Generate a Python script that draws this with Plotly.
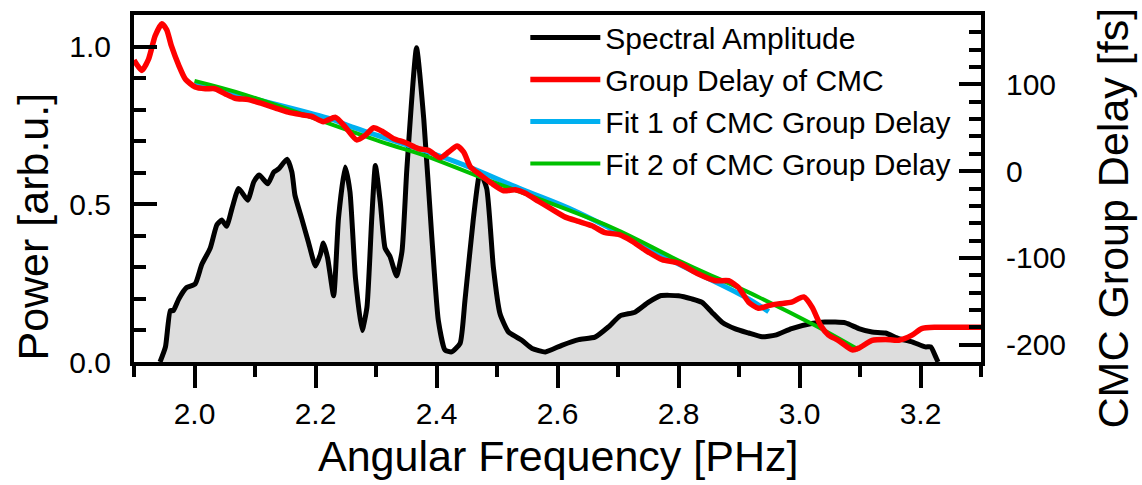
import plotly.graph_objects as go

# ---------------- data ----------------
spec_freq = [1.943, 1.952, 1.960, 1.965, 1.974, 1.987, 2.001, 2.012, 2.026, 2.037,
             2.045, 2.053, 2.062, 2.073, 2.088, 2.098, 2.107, 2.121, 2.131, 2.139,
             2.153, 2.161, 2.166, 2.177, 2.188, 2.200, 2.208, 2.213, 2.220, 2.230,
             2.238, 2.249, 2.257, 2.266, 2.277, 2.285, 2.293, 2.299, 2.307, 2.315,
             2.323, 2.334, 2.343, 2.351, 2.367, 2.379, 2.392, 2.403, 2.414, 2.425,
             2.439, 2.447, 2.461, 2.472, 2.483, 2.494, 2.505, 2.519, 2.541, 2.558,
             2.580, 2.607, 2.635, 2.662, 2.684, 2.704, 2.728, 2.750, 2.770, 2.800,
             2.822, 2.839, 2.855, 2.872, 2.894, 2.916, 2.938, 2.960, 2.987, 3.020,
             3.042, 3.076, 3.098, 3.120, 3.142, 3.164, 3.186, 3.208, 3.217, 3.225, 3.229]
spec_power = [0.0, 0.048, 0.163, 0.163, 0.20, 0.236, 0.247, 0.309, 0.361, 0.435,
              0.45, 0.43, 0.487, 0.55, 0.513, 0.571, 0.593, 0.565, 0.602, 0.612,
              0.643, 0.602, 0.529, 0.456, 0.382, 0.304, 0.341, 0.377, 0.33, 0.21,
              0.456, 0.618, 0.539, 0.267, 0.10, 0.173, 0.456, 0.623, 0.508, 0.361,
              0.335, 0.273, 0.351, 0.612, 0.996, 0.769, 0.403, 0.132, 0.038, 0.032,
              0.059, 0.194, 0.456, 0.602, 0.55, 0.30, 0.153, 0.095, 0.069, 0.043,
              0.032, 0.053, 0.071, 0.079, 0.111, 0.147, 0.158, 0.189, 0.21, 0.21,
              0.20, 0.189, 0.158, 0.126, 0.105, 0.092, 0.080, 0.085, 0.106, 0.122,
              0.127, 0.124, 0.106, 0.095, 0.092, 0.074, 0.064, 0.048, 0.048, 0.017, 0.0]

gd_freq = [1.900, 1.913, 1.924, 1.935, 1.946, 1.954, 1.962, 1.974, 1.985, 2.001,
           2.018, 2.034, 2.051, 2.067, 2.089, 2.111, 2.133, 2.155, 2.177, 2.194,
           2.213, 2.233, 2.249, 2.268, 2.282, 2.296, 2.310, 2.329, 2.348, 2.370,
           2.387, 2.406, 2.420, 2.434, 2.445, 2.456, 2.472, 2.491, 2.511, 2.530,
           2.547, 2.569, 2.591, 2.613, 2.635, 2.657, 2.679, 2.701, 2.723, 2.745,
           2.773, 2.800, 2.833, 2.861, 2.883, 2.899, 2.916, 2.932, 2.949, 2.965,
           2.987, 3.007, 3.021, 3.035, 3.048, 3.064, 3.087, 3.098, 3.120, 3.142,
           3.164, 3.186, 3.202, 3.225, 3.300]
gd_fs = [128, 116, 129, 156, 170, 163, 144, 122, 106, 97,
         95, 95, 89, 84, 82.5, 78, 73, 68, 65, 63,
         57, 62, 51, 36, 41, 50, 46, 37.5, 33, 26,
         24, 15.4, 22, 29, 22, 5, -4, -14, -22.6, -21.5,
         -25.4, -35, -44, -53, -58, -63, -71, -73, -80.6, -91,
         -102, -106, -118.6, -126.3, -126.3, -134, -151, -158, -155, -153,
         -151, -145, -157, -178, -189, -195, -206, -204, -195, -194,
         -195, -189, -181.5, -180, -180]

fit1_freq = [2.000, 2.084, 2.221, 2.260, 2.431, 2.541, 2.629, 2.800, 2.910, 2.949]
fit1_fs = [101, 86, 61, 51, 11, -21, -46, -107, -145, -162]

fit2_freq = [2.000, 2.084, 2.321, 2.376, 2.469, 2.690, 2.800, 2.932, 3.026, 3.098]
fit2_fs = [104, 88, 31, 19, -6, -65, -103, -145, -178, -206]

x_tickvals = [2.0, 2.2, 2.4, 2.6, 2.8, 3.0, 3.2]
x_ticktext = ["2.0", "2.2", "2.4", "2.6", "2.8", "3.0", "3.2"]
x_minorvals = [1.9, 2.1, 2.3, 2.5, 2.7, 2.9, 3.1, 3.3]
x_topvals = [2.0, 2.1, 2.2, 2.3, 2.4, 2.5, 2.6, 2.7, 2.8, 2.9, 3.0, 3.1, 3.2]
y_tickvals = [0.0, 0.5, 1.0]
y_ticktext = ["0.0", "0.5", "1.0"]
y_minorvals = [0.1, 0.2, 0.3, 0.4, 0.6, 0.7, 0.8, 0.9, 1.1]
y2_tickvals = [-200, -100, 0, 100]
y2_ticktext = ["-200", "-100", "0", "100"]
y2_minorvals = [-220, -180, -160, -140, -120, -80, -60, -40, -20, 20, 40, 60, 80, 120, 140, 160, 180]

names = ["Spectral Amplitude", "Group Delay of CMC", "Fit 1 of CMC Group Delay", "Fit 2 of CMC Group Delay"]

FONT = "Liberation Sans, Arial, sans-serif"
X_RANGE = [1.9, 3.3]

fig = go.Figure()
# grey area under the spectrum (no legend entry)
fig.add_trace(go.Scatter(x=spec_freq, y=spec_power, mode="lines", showlegend=False,
                         line=dict(color="rgba(0,0,0,0)", width=0, shape="spline", smoothing=0.5),
                         fill="tozeroy", fillcolor="#DDDDDD", hoverinfo="skip", yaxis="y"))
fig.add_trace(go.Scatter(x=spec_freq, y=spec_power, name=names[0], mode="lines",
                         line=dict(color="black", width=5, shape="spline", smoothing=0.5),
                         legendrank=1, yaxis="y"))
fig.add_trace(go.Scatter(x=fit1_freq, y=fit1_fs, name=names[2], mode="lines",
                         line=dict(color="#00B0F0", width=5, shape="spline"),
                         legendrank=3, yaxis="y2"))
fig.add_trace(go.Scatter(x=fit2_freq, y=fit2_fs, name=names[3], mode="lines",
                         line=dict(color="#00C000", width=4, shape="spline"),
                         legendrank=4, yaxis="y2"))
fig.add_trace(go.Scatter(x=gd_freq, y=gd_fs, name=names[1], mode="lines",
                         line=dict(color="#FF0000", width=5.5, shape="spline", smoothing=0.6),
                         legendrank=2, yaxis="y2"))

tickfont = dict(family=FONT, size=30, color="black")

fig.update_layout(
    width=1142, height=485,
    margin=dict(l=134, r=161, t=12, b=123),
    plot_bgcolor="white", paper_bgcolor="white",
    font=dict(family=FONT, color="black"),
    xaxis=dict(range=X_RANGE, showgrid=False, zeroline=False,
               showline=True, linecolor="black", linewidth=4, mirror=True,
               ticks="outside", ticklen=22, tickwidth=4, tickcolor="black",
               tickmode="array", tickvals=x_tickvals, ticktext=x_ticktext,
               tickfont=tickfont,
               minor=dict(tickmode="array", tickvals=x_minorvals, ticks="outside",
                          ticklen=11, tickwidth=4, tickcolor="black")),
    xaxis2=dict(range=X_RANGE, overlaying="x", side="top", anchor="y",
                showgrid=False, zeroline=False, showline=False,
                ticks="inside", ticklen=4, tickwidth=1, tickcolor="#888888",
                tickmode="array", tickvals=x_topvals, showticklabels=False),
    yaxis=dict(range=[0, 1.1], showgrid=False, zeroline=False,
               showline=True, linecolor="black", linewidth=4,
               ticks="inside", ticklen=23, tickwidth=4, tickcolor="black",
               tickmode="array", tickvals=y_tickvals, ticktext=y_ticktext,
               tickfont=tickfont, ticklabelstandoff=13,
               minor=dict(tickmode="array", tickvals=y_minorvals, ticks="inside",
                          ticklen=12, tickwidth=4, tickcolor="black")),
    yaxis2=dict(range=[-220, 180], overlaying="y", side="right", showgrid=False,
                zeroline=False, showline=True, linecolor="black", linewidth=4,
                ticks="inside", ticklen=22, tickwidth=4, tickcolor="black",
                tickmode="array", tickvals=y2_tickvals, ticktext=y2_ticktext,
                tickfont=tickfont, ticklabelstandoff=15,
                minor=dict(tickmode="array", tickvals=y2_minorvals, ticks="inside",
                           ticklen=12, tickwidth=4, tickcolor="black")),
    legend=dict(x=0.462, y=1.01, xanchor="left", yanchor="top",
                bgcolor="rgba(0,0,0,0)", itemwidth=70, tracegroupgap=0,
                font=dict(family=FONT, size=30, color="black")),
    showlegend=True,
)

fig.add_annotation(text="Angular Frequency [PHz]", xref="paper", yref="paper",
                   x=0.5, y=-0.271, xanchor="center", yanchor="middle", showarrow=False,
                   font=dict(family=FONT, size=43, color="black"))
fig.add_annotation(text="Power [arb.u.]", xref="paper", yref="paper",
                   x=-0.119, y=0.391, xanchor="center", yanchor="middle", showarrow=False,
                   textangle=-90, font=dict(family=FONT, size=43, color="black"))
fig.add_annotation(text="CMC Group Delay [fs]", xref="paper", yref="paper",
                   x=1.156, y=0.414, xanchor="center", yanchor="middle", showarrow=False,
                   textangle=-90, font=dict(family=FONT, size=43, color="black"))

fig.write_html("out.html")
